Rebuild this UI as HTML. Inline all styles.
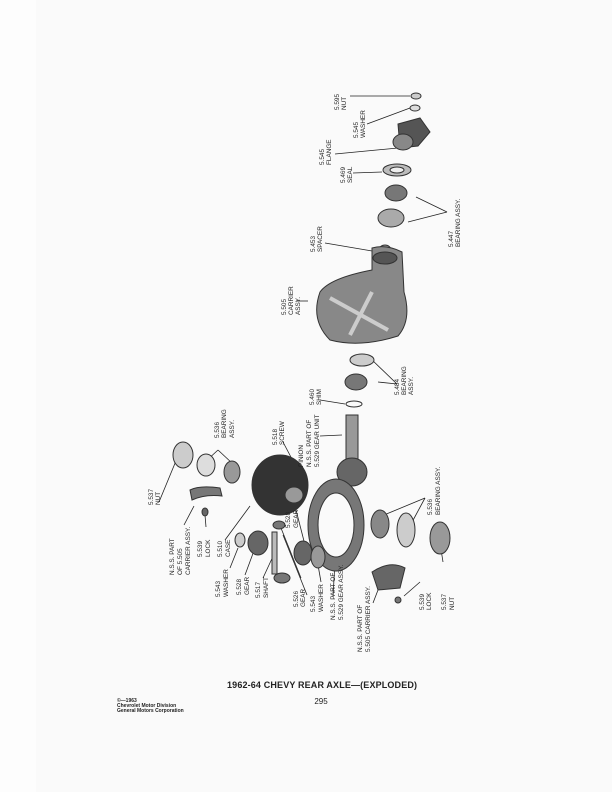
<!DOCTYPE html>
<html><head><meta charset="utf-8"><style>
html,body{margin:0;padding:0;background:#fdfdfd}
svg{display:block}
text{font-family:"Liberation Sans",sans-serif;fill:#222}
.l{font-size:6.4px}
</style></head><body>
<svg width="612" height="792" viewBox="0 0 612 792" xmlns="http://www.w3.org/2000/svg">
<rect x="36" y="0" width="576" height="792" fill="#fafafa"/>
<g stroke="#222" stroke-width="0.8" fill="none">
<line x1="350" y1="96" x2="410" y2="96"/>
<line x1="367" y1="124" x2="410" y2="108"/>
<line x1="335" y1="154" x2="398" y2="148"/>
<line x1="353" y1="173" x2="382" y2="172"/>
<line x1="447" y1="212" x2="416" y2="197"/>
<line x1="447" y1="212" x2="408" y2="222"/>
<line x1="325" y1="243" x2="378" y2="252"/>
<line x1="296" y1="301" x2="308" y2="301"/>
<line x1="397" y1="384" x2="378" y2="382"/>
<line x1="397" y1="384" x2="370" y2="358"/>
<line x1="320" y1="400" x2="345" y2="404"/>
<line x1="320" y1="436" x2="342" y2="435"/>
<line x1="283" y1="442" x2="303" y2="480"/>
<line x1="218" y1="450" x2="205" y2="462"/>
<line x1="218" y1="450" x2="233" y2="464"/>
<line x1="159" y1="502" x2="178" y2="456"/>
<line x1="184" y1="525" x2="194" y2="506"/>
<line x1="206" y1="527" x2="205" y2="515"/>
<line x1="225" y1="540" x2="250" y2="506"/>
<line x1="230" y1="568" x2="238" y2="548"/>
<line x1="245" y1="575" x2="255" y2="548"/>
<line x1="263" y1="578" x2="275" y2="552"/>
<line x1="301" y1="578" x2="281" y2="528"/>
<line x1="307" y1="595" x2="283" y2="535"/>
<line x1="296" y1="510" x2="305" y2="545"/>
<line x1="321" y1="582" x2="318" y2="565"/>
<line x1="333" y1="597" x2="336" y2="543"/>
<line x1="425" y1="498" x2="384" y2="515"/>
<line x1="425" y1="498" x2="411" y2="524"/>
<line x1="443" y1="562" x2="440" y2="543"/>
<line x1="420" y1="582" x2="404" y2="596"/>
<line x1="373" y1="603" x2="378" y2="590"/>
</g>
<!-- parts -->
<g stroke="#333" stroke-width="1">
<ellipse cx="416" cy="96" rx="5" ry="3" fill="#ccc"/>
<ellipse cx="415" cy="108" rx="5" ry="3" fill="#ddd"/>
<path d="M398 124 L420 118 L430 132 L418 146 L400 148 Z" fill="#555"/>
<ellipse cx="403" cy="142" rx="10" ry="8" fill="#888"/>
<ellipse cx="397" cy="170" rx="14" ry="6" fill="#bbb"/>
<ellipse cx="397" cy="170" rx="7" ry="3" fill="#eee"/>
<ellipse cx="396" cy="193" rx="11" ry="8" fill="#777"/>
<ellipse cx="391" cy="218" rx="13" ry="9" fill="#aaa"/>
<ellipse cx="385" cy="250" rx="6" ry="5" fill="#999"/>
<path d="M320 292 Q330 278 372 270 L372 248 Q386 244 402 252 L404 292 Q412 320 398 336 Q360 348 330 340 Q310 320 320 292 Z" fill="#888"/>
<path d="M330 298 L388 330 M350 335 L372 292" stroke="#ccc" stroke-width="4" fill="none"/>
<ellipse cx="385" cy="258" rx="12" ry="6" fill="#555"/>
<ellipse cx="362" cy="360" rx="12" ry="6" fill="#ccc"/>
<ellipse cx="356" cy="382" rx="11" ry="8" fill="#777"/>
<ellipse cx="354" cy="404" rx="8" ry="3" fill="none"/>
<rect x="346" y="415" width="12" height="48" fill="#999"/>
<ellipse cx="352" cy="472" rx="15" ry="14" fill="#666"/>
<ellipse cx="280" cy="485" rx="28" ry="30" fill="#333"/>
<ellipse cx="294" cy="495" rx="9" ry="8" fill="#999"/>
<ellipse cx="336" cy="525" rx="28" ry="46" fill="#777"/>
<ellipse cx="336" cy="525" rx="18" ry="32" fill="#fafafa"/>
<ellipse cx="183" cy="455" rx="10" ry="13" fill="#ccc"/>
<ellipse cx="206" cy="465" rx="9" ry="11" fill="#ddd"/>
<ellipse cx="232" cy="472" rx="8" ry="11" fill="#999"/>
<path d="M190 490 Q200 485 220 488 L222 496 Q205 494 192 500 Z" fill="#777"/>
<ellipse cx="205" cy="512" rx="3" ry="4" fill="#666"/>
<ellipse cx="240" cy="540" rx="5" ry="7" fill="#ccc"/>
<ellipse cx="258" cy="543" rx="10" ry="12" fill="#666"/>
<rect x="272" y="532" width="5" height="42" fill="#bbb"/>
<ellipse cx="279" cy="525" rx="6" ry="4" fill="#777"/>
<ellipse cx="282" cy="578" rx="8" ry="5" fill="#777"/>
<ellipse cx="303" cy="553" rx="9" ry="12" fill="#666"/>
<ellipse cx="318" cy="557" rx="7" ry="11" fill="#999"/>
<ellipse cx="380" cy="524" rx="9" ry="14" fill="#888"/>
<ellipse cx="406" cy="530" rx="9" ry="17" fill="#ccc"/>
<ellipse cx="440" cy="538" rx="10" ry="16" fill="#999"/>
<path d="M372 572 Q390 560 405 568 L400 588 L378 590 Z" fill="#666"/>
<ellipse cx="398" cy="600" rx="3" ry="3" fill="#777"/>
</g>
<!-- labels -->
<g class="l">
<text transform="translate(339,110) rotate(-90)">5.595</text><text transform="translate(346,110) rotate(-90)">NUT</text>
<text transform="translate(358,138) rotate(-90)">5.545</text><text transform="translate(365,138) rotate(-90)">WASHER</text>
<text transform="translate(324,165) rotate(-90)">5.545</text><text transform="translate(331,165) rotate(-90)">FLANGE</text>
<text transform="translate(345,183) rotate(-90)">5.469</text><text transform="translate(352,183) rotate(-90)">SEAL</text>
<text transform="translate(453,247) rotate(-90)">5.447</text><text transform="translate(460,247) rotate(-90)">BEARING  ASSY.</text>
<text transform="translate(315,252) rotate(-90)">5.453</text><text transform="translate(322,252) rotate(-90)">SPACER</text>
<text transform="translate(286,315) rotate(-90)">5.505</text><text transform="translate(293,315) rotate(-90)">CARRIER</text><text transform="translate(300,315) rotate(-90)">ASSY.</text>
<text transform="translate(399,395) rotate(-90)">5.484</text><text transform="translate(406,395) rotate(-90)">BEARING</text><text transform="translate(413,395) rotate(-90)">ASSY.</text>
<text transform="translate(314,405) rotate(-90)">5.460</text><text transform="translate(321,405) rotate(-90)">SHIM</text>
<text transform="translate(277,445) rotate(-90)">5.518</text><text transform="translate(284,445) rotate(-90)">SCREW</text>
<text transform="translate(303,467) rotate(-90)">PINION</text><text transform="translate(311,467) rotate(-90)">N.S.S.  PART OF</text><text transform="translate(319,467) rotate(-90)">5.529  GEAR UNIT</text>
<text transform="translate(219,438) rotate(-90)">5.536</text><text transform="translate(226,438) rotate(-90)">BEARING</text><text transform="translate(234,438) rotate(-90)">ASSY.</text>
<text transform="translate(153,505) rotate(-90)">5.537</text><text transform="translate(160,505) rotate(-90)">NUT</text>
<text transform="translate(174,575) rotate(-90)">N.S.S.  PART</text><text transform="translate(182,575) rotate(-90)">OF 5.505</text><text transform="translate(190,575) rotate(-90)">CARRIER ASSY.</text>
<text transform="translate(202,557) rotate(-90)">5.539</text><text transform="translate(210,557) rotate(-90)">LOCK</text>
<text transform="translate(222,557) rotate(-90)">5.510</text><text transform="translate(230,557) rotate(-90)">CASE</text>
<text transform="translate(220,597) rotate(-90)">5.543</text><text transform="translate(228,597) rotate(-90)">WASHER</text>
<text transform="translate(241,595) rotate(-90)">5.528</text><text transform="translate(249,595) rotate(-90)">GEAR</text>
<text transform="translate(260,598) rotate(-90)">5.517</text><text transform="translate(268,598) rotate(-90)">SHAFT</text>
<text transform="translate(298,607) rotate(-90)">5.526</text><text transform="translate(305,607) rotate(-90)">GEAR</text>
<text transform="translate(315,612) rotate(-90)">5.543</text><text transform="translate(323,612) rotate(-90)">WASHER</text>
<text transform="translate(335,620) rotate(-90)">N.S.S.  PART OF</text><text transform="translate(343,620) rotate(-90)">5.529  GEAR ASSY.</text>
<text transform="translate(290,528) rotate(-90)">5.528</text><text transform="translate(298,528) rotate(-90)">GEAR</text>
<text transform="translate(432,515) rotate(-90)">5.536</text><text transform="translate(440,515) rotate(-90)">BEARING  ASSY.</text>
<text transform="translate(424,610) rotate(-90)">5.539</text><text transform="translate(431,610) rotate(-90)">LOCK</text>
<text transform="translate(446,610) rotate(-90)">5.537</text><text transform="translate(454,610) rotate(-90)">NUT</text>
<text transform="translate(362,652) rotate(-90)">N.S.S.  PART OF</text><text transform="translate(370,652) rotate(-90)">5.505  CARRIER ASSY.</text>
</g>
<text x="322" y="688" text-anchor="middle" font-size="9" font-weight="bold" textLength="190">1962-64 CHEVY REAR AXLE—(EXPLODED)</text>
<text x="321" y="704" text-anchor="middle" font-size="8" font-family="Liberation Serif">295</text>
<g font-size="5" font-weight="bold">
<text x="117" y="702">©—1963</text>
<text x="117" y="707">Chevrolet Motor Division</text>
<text x="117" y="712">General Motors Corporation</text>
</g>
</svg>
</body></html>
